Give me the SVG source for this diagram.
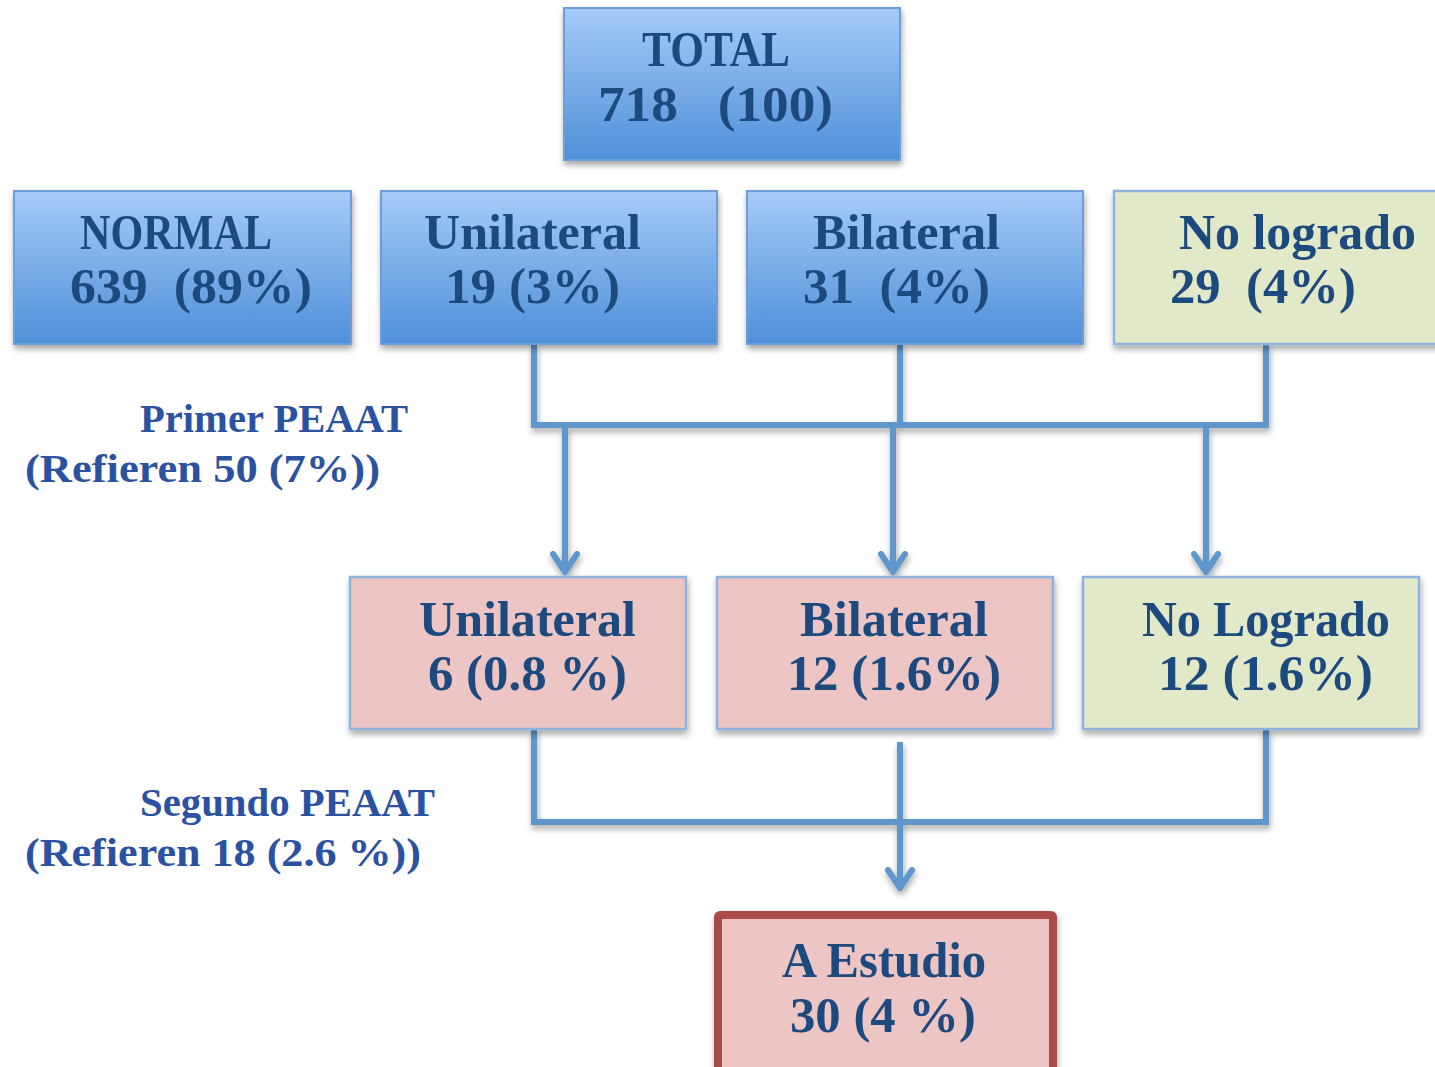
<svg xmlns="http://www.w3.org/2000/svg" width="1435" height="1067" viewBox="0 0 1435 1067">
<style>
.t{font-family:"Liberation Serif","DejaVu Serif",serif;font-weight:bold;fill:#1f4a7e;font-size:50px;white-space:pre}
.s{font-family:"Liberation Serif","DejaVu Serif",serif;font-weight:bold;fill:#2a52a0;font-size:41px;white-space:pre}
.blue{fill:url(#gb);stroke:#6c9fd9;stroke-width:2}
.pink{fill:#ecc5c4;stroke:#8db3df;stroke-width:2.5}
.green{fill:#e2e9c9;stroke:#8db3df;stroke-width:2.5}
.ln{fill:none;stroke:#5f96cc;stroke-width:6}
</style>
<defs>
<linearGradient id="gb" x1="0" y1="0" x2="0" y2="1">
<stop offset="0" stop-color="#a6cbf8"/>
<stop offset="1" stop-color="#4f8fd9"/>
</linearGradient>
<filter id="sh" x="-10%" y="-10%" width="130%" height="140%">
<feDropShadow dx="1" dy="4" stdDeviation="3" flood-color="#000" flood-opacity="0.35"/>
</filter>
<marker id="ah" viewBox="0 0 30 24" refX="15" refY="22" markerWidth="30" markerHeight="24" markerUnits="userSpaceOnUse" orient="0">
<path d="M3,3 L15,21 L27,3" fill="none" stroke="#5f96cc" stroke-width="6" stroke-linecap="round" stroke-linejoin="round"/>
</marker>
</defs>
<rect width="1435" height="1067" fill="#fff"/>

<g id="connectors" filter="url(#sh)">
<path class="ln" d="M534,344 V425 H1266 V344"/>
<path class="ln" d="M900,344 V425"/>
<path class="ln" d="M565,425 V573" marker-end="url(#ah)"/>
<path class="ln" d="M893,425 V573" marker-end="url(#ah)"/>
<path class="ln" d="M1206,425 V573" marker-end="url(#ah)"/>
<path class="ln" d="M534,729 V822 H1266 V729"/>
<path class="ln" d="M900,742 V889" marker-end="url(#ah)"/>
</g>

<g id="total" filter="url(#sh)">
<rect class="blue" x="564" y="8" width="336" height="152"/>
<text class="t" x="642" y="66" textLength="148" lengthAdjust="spacingAndGlyphs">TOTAL</text>
<text class="t" x="598" y="121" textLength="235" lengthAdjust="spacingAndGlyphs" xml:space="preserve">718   (100)</text>
</g>

<g id="normal" filter="url(#sh)">
<rect class="blue" x="14" y="191" width="337" height="153"/>
<text class="t" x="80" y="249" textLength="192" lengthAdjust="spacingAndGlyphs">NORMAL</text>
<text class="t" x="70" y="303" textLength="242" lengthAdjust="spacingAndGlyphs" xml:space="preserve">639  (89%)</text>
</g>

<g id="unilateral1" filter="url(#sh)">
<rect class="blue" x="381" y="191" width="336" height="153"/>
<text class="t" x="424" y="249" textLength="217" lengthAdjust="spacingAndGlyphs">Unilateral</text>
<text class="t" x="445" y="303" textLength="175" lengthAdjust="spacingAndGlyphs">19 (3%)</text>
</g>

<g id="bilateral1" filter="url(#sh)">
<rect class="blue" x="747" y="191" width="336" height="153"/>
<text class="t" x="813" y="249" textLength="187" lengthAdjust="spacingAndGlyphs">Bilateral</text>
<text class="t" x="803" y="303" textLength="187" lengthAdjust="spacingAndGlyphs" xml:space="preserve">31  (4%)</text>
</g>

<g id="nologrado1" filter="url(#sh)">
<rect class="green" x="1114" y="191" width="336" height="153"/>
<text class="t" x="1179" y="249" textLength="237" lengthAdjust="spacingAndGlyphs">No logrado</text>
<text class="t" x="1170" y="303" textLength="186" lengthAdjust="spacingAndGlyphs" xml:space="preserve">29  (4%)</text>
</g>

<g id="label1">
<text class="s" x="140" y="432" textLength="268" lengthAdjust="spacingAndGlyphs">Primer PEAAT</text>
<text class="s" x="25" y="482" textLength="355" lengthAdjust="spacingAndGlyphs">(Refieren 50 (7%))</text>
</g>

<g id="unilateral2" filter="url(#sh)">
<rect class="pink" x="350" y="577" width="336" height="152"/>
<text class="t" x="419" y="636" textLength="217" lengthAdjust="spacingAndGlyphs">Unilateral</text>
<text class="t" x="428" y="690" textLength="199" lengthAdjust="spacingAndGlyphs">6 (0.8 %)</text>
</g>

<g id="bilateral2" filter="url(#sh)">
<rect class="pink" x="717" y="577" width="336" height="152"/>
<text class="t" x="800" y="636" textLength="188" lengthAdjust="spacingAndGlyphs">Bilateral</text>
<text class="t" x="787" y="690" textLength="214" lengthAdjust="spacingAndGlyphs">12 (1.6%)</text>
</g>

<g id="nologrado2" filter="url(#sh)">
<rect class="green" x="1083" y="577" width="336" height="152"/>
<text class="t" x="1142" y="636" textLength="248" lengthAdjust="spacingAndGlyphs">No Logrado</text>
<text class="t" x="1158" y="690" textLength="215" lengthAdjust="spacingAndGlyphs">12 (1.6%)</text>
</g>

<g id="label2">
<text class="s" x="140" y="816" textLength="295" lengthAdjust="spacingAndGlyphs">Segundo PEAAT</text>
<text class="s" x="25" y="866" textLength="396" lengthAdjust="spacingAndGlyphs">(Refieren 18 (2.6 %))</text>
</g>

<g id="estudio" filter="url(#sh)">
<rect x="718" y="915" width="335" height="160" fill="#ecc5c4" stroke="#ab4b48" stroke-width="8" rx="2"/>
<text class="t" x="782" y="977" textLength="204" lengthAdjust="spacingAndGlyphs">A Estudio</text>
<text class="t" x="790" y="1032" textLength="186" lengthAdjust="spacingAndGlyphs">30 (4 %)</text>
</g>
</svg>
